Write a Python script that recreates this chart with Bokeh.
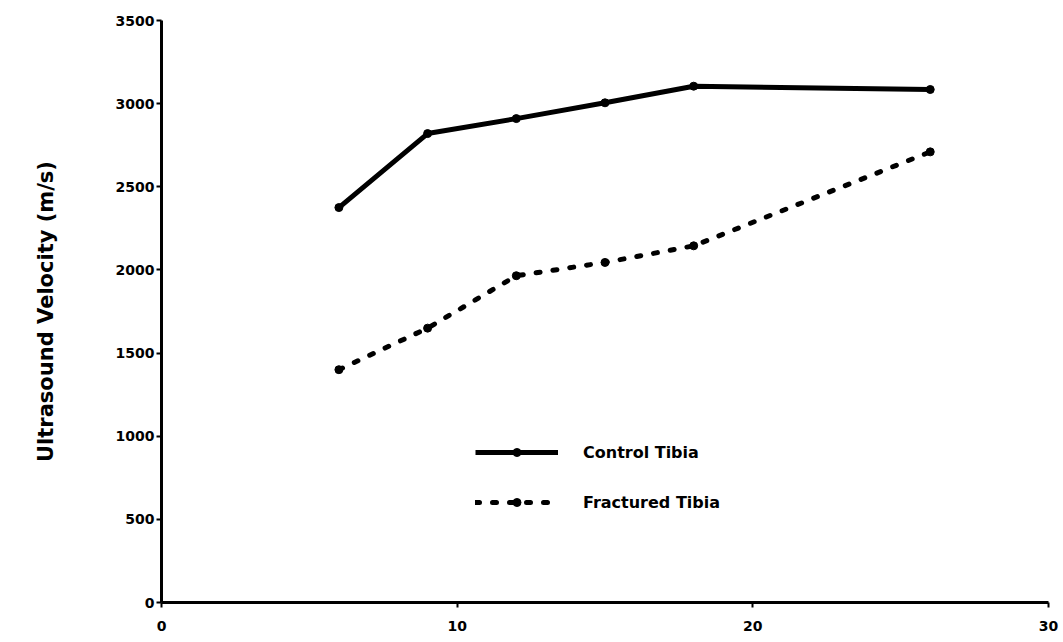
from bokeh.plotting import figure
from bokeh.models import Range1d, FixedTicker, Legend, LegendItem
from bokeh.embed import file_html
from bokeh.resources import INLINE

# Data (time, ultrasound velocity m/s)
weeks = [6, 9, 12, 15, 18, 26]
control_tibia = [2375, 2820, 2910, 3005, 3105, 3085]
fractured_tibia = [1400, 1650, 1965, 2045, 2145, 2710]

x_ticks = [0, 10, 20, 30]
y_ticks = [0, 500, 1000, 1500, 2000, 2500, 3000, 3500]

FONT = "DejaVu Sans"

p = figure(width=1063, height=642, output_backend="svg", toolbar_location=None,
           x_range=Range1d(0, 30), y_range=Range1d(0, 3500),
           min_border_left=161, min_border_right=15, min_border_top=20, min_border_bottom=40)
p.outline_line_color = None
p.xgrid.visible = False
p.ygrid.visible = False
p.background_fill_color = "white"
p.border_fill_color = "white"

for ax in (p.xaxis[0], p.yaxis[0]):
    ax.axis_line_width = 3
    ax.axis_line_color = "black"
    ax.major_tick_line_width = 2
    ax.major_tick_line_color = "black"
    ax.major_tick_in = 0
    ax.major_tick_out = 5
    ax.minor_tick_line_color = None
    ax.major_label_text_font = FONT
    ax.major_label_text_font_style = "bold"
    ax.major_label_text_font_size = "14px"
    ax.major_label_text_color = "black"

p.xaxis.ticker = FixedTicker(ticks=x_ticks)
p.yaxis.ticker = FixedTicker(ticks=y_ticks)
p.xaxis.major_label_standoff = 13
p.yaxis.major_label_standoff = 2

p.yaxis.axis_label = "Ultrasound Velocity (m/s)"
p.yaxis.axis_label_text_font = FONT
p.yaxis.axis_label_text_font_style = "bold"
p.yaxis.axis_label_text_font_size = "21px"
p.yaxis.axis_label_text_color = "black"
p.yaxis.axis_label_standoff = 55

l1 = p.line(weeks, control_tibia, line_width=5, line_color="black", line_join="round")
c1 = p.scatter(weeks, control_tibia, size=8, color="black")
l2 = p.line(weeks, fractured_tibia, line_width=5, line_color="black",
            line_dash="4 13", line_cap="round")
c2 = p.scatter(weeks, fractured_tibia, size=8, color="black")

legend = Legend(items=[LegendItem(label="Control Tibia", renderers=[l1, c1]),
                       LegendItem(label="Fractured Tibia", renderers=[l2, c2])],
                location=(314, 90), glyph_width=83, glyph_height=20,
                label_height=20, label_standoff=25, spacing=30, padding=0, margin=0,
                border_line_color=None, background_fill_alpha=0,
                label_text_font=FONT, label_text_font_style="bold",
                label_text_font_size="16px", label_text_color="black")
p.add_layout(legend)

open("out.html", "w").write(file_html(p, INLINE))
